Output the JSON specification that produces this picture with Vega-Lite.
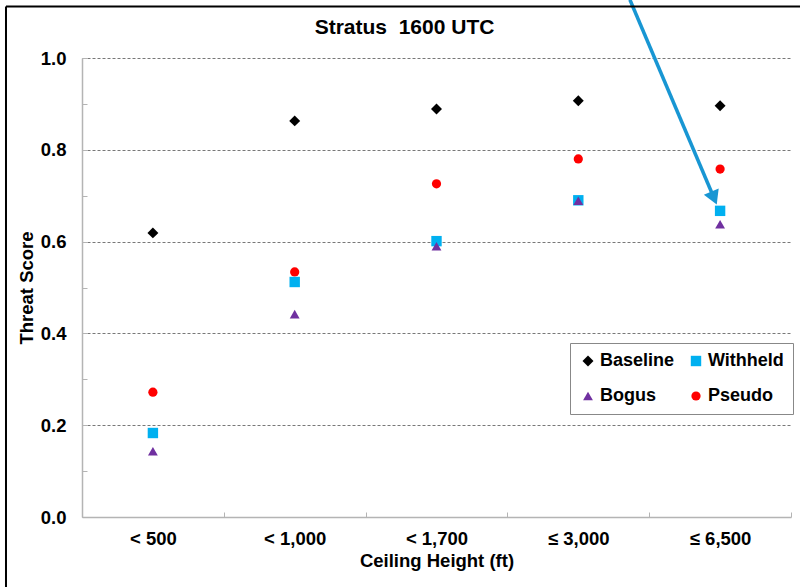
{
  "$schema": "https://vega.github.io/schema/vega-lite/v6.json",
  "width": 709,
  "height": 459,
  "autosize": "none",
  "padding": {"left": 82, "top": 58, "right": 9, "bottom": 70},
  "background": "white",
  "config": {
    "view": {"stroke": null},
    "font": "Liberation Sans"
  },
  "title": {
    "text": "Stratus\u00a0 1600 UTC",
    "font": "Liberation Sans",
    "fontSize": 21,
    "fontWeight": "bold",
    "color": "black",
    "anchor": "middle",
    "frame": "group",
    "dx": -32,
    "offset": -40
  },
  "layer": [
    {
      "data": {
        "values": [
          {"cat": "< 500", "series": "Baseline", "value": 0.619},
          {"cat": "< 500", "series": "Pseudo", "value": 0.272},
          {"cat": "< 500", "series": "Withheld", "value": 0.183},
          {"cat": "< 500", "series": "Bogus", "value": 0.143},
          {"cat": "< 1,000", "series": "Baseline", "value": 0.863},
          {"cat": "< 1,000", "series": "Pseudo", "value": 0.534},
          {"cat": "< 1,000", "series": "Withheld", "value": 0.512},
          {"cat": "< 1,000", "series": "Bogus", "value": 0.442},
          {"cat": "< 1,700", "series": "Baseline", "value": 0.889},
          {"cat": "< 1,700", "series": "Pseudo", "value": 0.726},
          {"cat": "< 1,700", "series": "Withheld", "value": 0.601},
          {"cat": "< 1,700", "series": "Bogus", "value": 0.590},
          {"cat": "≤ 3,000", "series": "Baseline", "value": 0.907},
          {"cat": "≤ 3,000", "series": "Pseudo", "value": 0.780},
          {"cat": "≤ 3,000", "series": "Withheld", "value": 0.690},
          {"cat": "≤ 3,000", "series": "Bogus", "value": 0.689},
          {"cat": "≤ 6,500", "series": "Baseline", "value": 0.896},
          {"cat": "≤ 6,500", "series": "Pseudo", "value": 0.758},
          {"cat": "≤ 6,500", "series": "Withheld", "value": 0.667},
          {"cat": "≤ 6,500", "series": "Bogus", "value": 0.638}
        ]
      },
      "mark": {"type": "point", "filled": true, "opacity": 1},
      "encoding": {
        "x": {
          "field": "cat",
          "type": "nominal",
          "sort": ["< 500", "< 1,000", "< 1,700", "≤ 3,000", "≤ 6,500"],
          "scale": {"paddingInner": 0, "paddingOuter": 0},
          "axis": {
            "title": "Ceiling Height (ft)",
            "titleFont": "Liberation Sans",
            "titleFontSize": 18.5,
            "titleFontWeight": "bold",
            "titleColor": "black",
            "titlePadding": 4,
            "labelFont": "Liberation Sans",
            "labelFontSize": 18.5,
            "labelFontWeight": "bold",
            "labelColor": "black",
            "labelAngle": 0,
            "labelPadding": 17,
            "tickBand": "extent",
            "tickSize": -5,
            "tickColor": "#b4b4b4",
            "domainColor": "#b4b4b4",
            "domainWidth": 1.5,
            "grid": false
          }
        },
        "y": {
          "field": "value",
          "type": "quantitative",
          "scale": {"domain": [0, 1], "nice": false},
          "axis": {
            "title": "Threat Score",
            "titleFont": "Liberation Sans",
            "titleFontSize": 18.5,
            "titleFontWeight": "bold",
            "titleColor": "black",
            "titlePadding": 4,
            "values": [0, 0.05, 0.1, 0.15, 0.2, 0.25, 0.3, 0.35, 0.4, 0.45, 0.5, 0.55, 0.6, 0.65, 0.7, 0.75, 0.8, 0.85, 0.9, 0.95, 1.0],
            "labelExpr": "(round(datum.value*100) % 20 == 0) ? format(datum.value, '.1f') : ''",
            "labelFont": "Liberation Sans",
            "labelFontSize": 18.5,
            "labelFontWeight": "bold",
            "labelColor": "black",
            "labelPadding": 21,
            "tickSize": -5,
            "tickColor": "#b4b4b4",
            "domainColor": "#b4b4b4",
            "domainWidth": 1.5,
            "grid": true,
            "gridColor": "#555555",
            "gridDash": [3, 2],
            "gridWidth": 0.8,
            "gridOpacity": {"condition": {"test": "round(datum.value*100) % 20 == 0 && datum.value > 0", "value": 1}, "value": 0}
          }
        },
        "color": {
          "field": "series",
          "type": "nominal",
          "scale": {
            "domain": ["Baseline", "Withheld", "Bogus", "Pseudo"],
            "range": ["#000000", "#00b0f0", "#7030a0", "#ff0000"]
          },
          "legend": {
            "title": null,
            "orient": "none",
            "legendX": 488,
            "legendY": 285,
            "columns": 2,
            "direction": "horizontal",
            "columnPadding": 12,
            "rowPadding": 17,
            "padding": 9,
            "strokeColor": "#888888",
            "fillColor": "white",
            "labelFont": "Liberation Sans",
            "labelFontSize": 18,
            "labelFontWeight": "bold",
            "labelColor": "black",
            "symbolSize": 90,
            "symbolStrokeWidth": 0,
            "labelOffset": 3
          }
        },
        "shape": {
          "field": "series",
          "type": "nominal",
          "scale": {
            "domain": ["Baseline", "Withheld", "Bogus", "Pseudo"],
            "range": ["diamond", "square", "triangle-up", "circle"]
          },
          "legend": {
            "title": null,
            "orient": "none",
            "legendX": 488,
            "legendY": 285,
            "columns": 2,
            "direction": "horizontal",
            "columnPadding": 12,
            "rowPadding": 17,
            "padding": 9,
            "strokeColor": "#888888",
            "fillColor": "white",
            "labelFont": "Liberation Sans",
            "labelFontSize": 18,
            "labelFontWeight": "bold",
            "labelColor": "black",
            "symbolSize": 90,
            "symbolStrokeWidth": 0,
            "labelOffset": 3
          }
        },
        "size": {
          "field": "series",
          "type": "nominal",
          "scale": {
            "domain": ["Baseline", "Withheld", "Bogus", "Pseudo"],
            "range": [120, 85, 150, 140]
          },
          "legend": null
        }
      }
    },
    {
      "data": {"values": [
        {"x": 4.364, "y": 1.127, "x2": 4.957, "y2": 0.695}
      ]},
      "mark": {"type": "rule", "clip": false, "color": "#1896d3", "strokeWidth": 3.5},
      "encoding": {
        "x": {"field": "x", "type": "quantitative", "scale": {"domain": [0.5, 5.5], "nice": false, "zero": false}, "axis": null},
        "y": {"field": "y", "type": "quantitative", "scale": {"domain": [0, 1], "nice": false}},
        "x2": {"field": "x2"},
        "y2": {"field": "y2"}
      }
    },
    {
      "data": {"values": [
        {"x": -0.036, "y": 1.112, "x2": -0.036, "y2": -0.16},
        {"x": -0.036, "y": 1.112, "x2": 5.6, "y2": 1.112}
      ]},
      "mark": {"type": "rule", "clip": false, "color": "#000000", "strokeWidth": 2},
      "encoding": {
        "x": {"field": "x", "type": "quantitative", "scale": {"domain": [0.5, 5.5], "nice": false, "zero": false}, "axis": null},
        "y": {"field": "y", "type": "quantitative", "scale": {"domain": [0, 1], "nice": false}},
        "x2": {"field": "x2"},
        "y2": {"field": "y2"}
      }
    },
    {
      "data": {"values": [{"x": 4.957, "y": 0.695}]},
      "mark": {"type": "point", "shape": "triangle-down", "filled": true, "color": "#1896d3", "opacity": 1, "size": 260, "angle": 337, "clip": false},
      "encoding": {
        "x": {"field": "x", "type": "quantitative", "scale": {"domain": [0.5, 5.5], "nice": false, "zero": false}, "axis": null},
        "y": {"field": "y", "type": "quantitative", "scale": {"domain": [0, 1], "nice": false}}
      }
    }
  ],
  "resolve": {"scale": {"x": "independent"}}
}
